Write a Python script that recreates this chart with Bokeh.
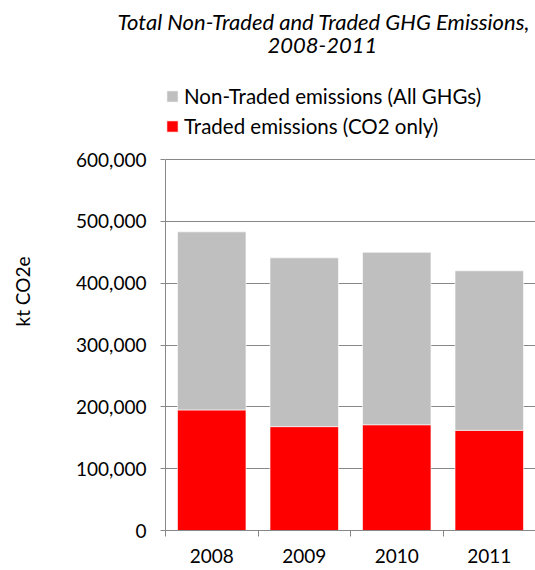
from bokeh.plotting import figure
from bokeh.models import (ColumnDataSource, FixedTicker, NumeralTickFormatter,
                          Legend, LegendItem, Title, Range1d)
from bokeh.embed import file_html
from bokeh.resources import INLINE

# Emissions by year, kt CO2e
years = ["2008", "2009", "2010", "2011"]
traded = [195000, 168000, 171000, 162000]          # traded (CO2 only)
total = [483000, 441000, 450000, 420000]           # traded + non-traded
non_traded = [t - r for t, r in zip(total, traded)]
y_ticks = [0, 100000, 200000, 300000, 400000, 500000, 600000]

FONT = "Lato"
TEXT = "#000000"
GRID = "#878787"
RED = "#FF0000"
GREY = "#BFBFBF"

# page geometry (px): the frame reaches up under the titles so the legend
# can sit inside it; the value axis itself stops at the last tick
W, H = 535, 570
FRAME_TOP, AXIS_TOP, AXIS_BOTTOM = 52, 159, 530
y_end = y_ticks[-1] * (AXIS_BOTTOM - FRAME_TOP) / (AXIS_BOTTOM - AXIS_TOP)

x_pos = [i + 0.5 for i in range(len(years))]
src = ColumnDataSource(dict(x=x_pos, year=years, traded=traded, non_traded=non_traded))

p = figure(width=W, height=H, output_backend="svg", toolbar_location=None,
           x_range=Range1d(0, len(years)), y_range=Range1d(0, y_end),
           min_border_left=165, min_border_right=0, min_border_top=FRAME_TOP,
           min_border_bottom=H - AXIS_BOTTOM, outline_line_color=None)
p.title = None

renderers = p.vbar_stack(["traded", "non_traded"], x="x", width=0.74, source=src,
                         color=[RED, GREY], line_color="white", line_alpha=0.6,
                         line_width=1)

# category axis: labels under bar centres, ticks on category boundaries
p.xaxis.ticker = FixedTicker(ticks=x_pos, minor_ticks=list(range(len(years) + 1)))
p.xaxis.major_label_overrides = {x: y for x, y in zip(x_pos, years)}
p.xaxis.major_tick_out = 0
p.xaxis.major_tick_in = 0
p.xaxis.minor_tick_out = 6
p.xaxis.minor_tick_in = 0
p.xaxis.minor_tick_line_color = GRID
p.xaxis.axis_line_color = GRID
p.xaxis.major_label_standoff = 12
p.xaxis.major_label_text_font = FONT
p.xaxis.major_label_text_font_size = "19px"
p.xaxis.major_label_text_color = TEXT

p.yaxis.ticker = FixedTicker(ticks=y_ticks, minor_ticks=[])
p.yaxis.bounds = (y_ticks[0], y_ticks[-1])
p.yaxis.formatter = NumeralTickFormatter(format="0,0")
p.yaxis.major_tick_out = 5
p.yaxis.major_tick_in = 0
p.yaxis.major_tick_line_color = GRID
p.yaxis.axis_line_color = GRID
p.yaxis.major_label_standoff = 14
p.yaxis.major_label_text_font = FONT
p.yaxis.major_label_text_font_size = "19px"
p.yaxis.major_label_text_color = TEXT
p.yaxis.axis_label = "kt CO2e"
p.yaxis.axis_label_standoff = 39
p.yaxis.axis_label_text_font = FONT
p.yaxis.axis_label_text_font_size = "19px"
p.yaxis.axis_label_text_font_style = "normal"
p.yaxis.axis_label_text_color = TEXT

p.xgrid.visible = False
p.ygrid.grid_line_color = GRID
p.ygrid.grid_line_width = 1.2

# legend between titles and plot, non-traded listed first
legend = Legend(items=[
    LegendItem(label="Non-Traded emissions (All GHGs)", renderers=[renderers[1]]),
    LegendItem(label="Traded emissions (CO2 only)", renderers=[renderers[0]]),
], location=(0, 392), glyph_width=14, glyph_height=14, label_standoff=5,
    label_text_font=FONT, label_text_font_size="20.5px", label_text_color=TEXT,
    spacing=6, padding=0, margin=0, border_line_color=None,
    background_fill_alpha=0)
p.add_layout(legend, "center")

# two-line title, stacked outward from the frame
p.add_layout(Title(text="2008-2011", align="left", offset=102, text_font=FONT,
                   text_font_size="22px", text_font_style="italic",
                   text_color=TEXT, standoff=0), "above")
p.add_layout(Title(text="Total Non-Traded and Traded GHG Emissions,", align="left",
                   offset=-48, text_font=FONT, text_font_size="22px",
                   text_font_style="italic", text_color=TEXT, standoff=2), "above")

open("out.html", "w").write(file_html(p, INLINE))
